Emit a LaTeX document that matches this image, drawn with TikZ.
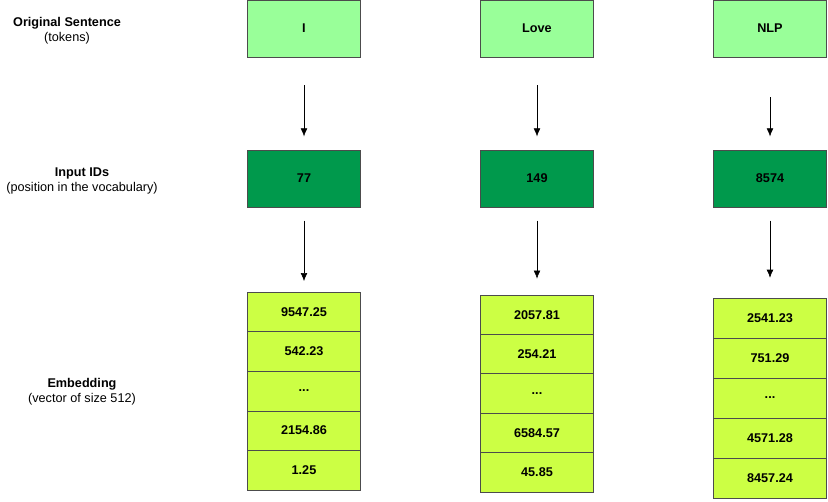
\documentclass[tikz,border=0pt]{standalone}
\usepackage{fontspec}
\setmainfont{Liberation Sans}
\usetikzlibrary{arrows, arrows.meta, positioning, calc}
\definecolor{tokgreen}{HTML}{99FF99}
\definecolor{idgreen}{HTML}{00994C}
\definecolor{embgreen}{HTML}{CCFF44}
\newcommand{\skipval}{...}
\begin{document}
\begin{tikzpicture}
  [x=0.75pt, y=-0.75pt, > = {Latex[length=6pt, width=5pt]},
    font=\fontsize{9.5}{11}\selectfont,
    tokbox/.style ={rectangle, draw=black!70, fill=tokgreen, minimum width=84.75pt, minimum height=42.75pt, font=\fontsize{9.5}{11}\selectfont\bfseries},
    idbox/.style ={tokbox, fill=idgreen},
    cell/.style ={tokbox, fill=embgreen, minimum height=29.7pt},
    rowlabel/.style ={align=center},
  ]
  \useasboundingbox (0,0) rectangle (828,501);

  \node[rowlabel] (lab1) at (67,31) {\textbf{Original Sentence}\\(tokens)};
  \node[rowlabel] (lab2) at (82,181) {\textbf{Input IDs}\\(position in the vocabulary)};
  \node[rowlabel] (lab3) at (82,392) {\textbf{Embedding}\\(vector of size 512)};

  \node[tokbox] (tok1) at (304,28.5) {I};
  \node[tokbox] (tok2) at (537,28.5) {Love};
  \node[tokbox] (tok3) at (770,28.5) {NLP};

  \node[idbox] (id1) at (304,178.5) {77};
  \node[idbox] (id2) at (537,178.5) {149};
  \node[idbox] (id3) at (770,178.5) {8574};

  % embedding vectors
  \foreach \v [count=\i] in {9547.25, 542.23, \skipval, 2154.86, 1.25}
    \node[cell] (emb1-\i) at (304, 272.2+39.6*\i) {\v};
  \foreach \v [count=\i] in {2057.81, 254.21, \skipval, 6584.57, 45.85}
    \node[cell] (emb2-\i) at (537, 275.3+39.4*\i) {\v};
  \foreach \v [count=\i] in {2541.23, 751.29, \skipval, 4571.28, 8457.24}
    \node[cell, minimum height=30pt] (emb3-\i) at (770, 278+40*\i) {\v};

  \draw[->] ([yshift=-21pt]tok1.south) -- ([yshift=10pt]id1.north);
  \draw[->] ([yshift=-21pt]tok2.south) -- ([yshift=10pt]id2.north);
  \draw[->] ([yshift=-30pt]tok3.south) -- ([yshift=10pt]id3.north);

  \draw[->] ([yshift=-10pt]id1.south) -- ([yshift=8pt]emb1-1.north);
  \draw[->] ([yshift=-10pt]id2.south) -- ([yshift=12pt]emb2-1.north);
  \draw[->] ([yshift=-10pt]id3.south) -- ([yshift=15pt]emb3-1.north);
\end{tikzpicture}
\end{document}
